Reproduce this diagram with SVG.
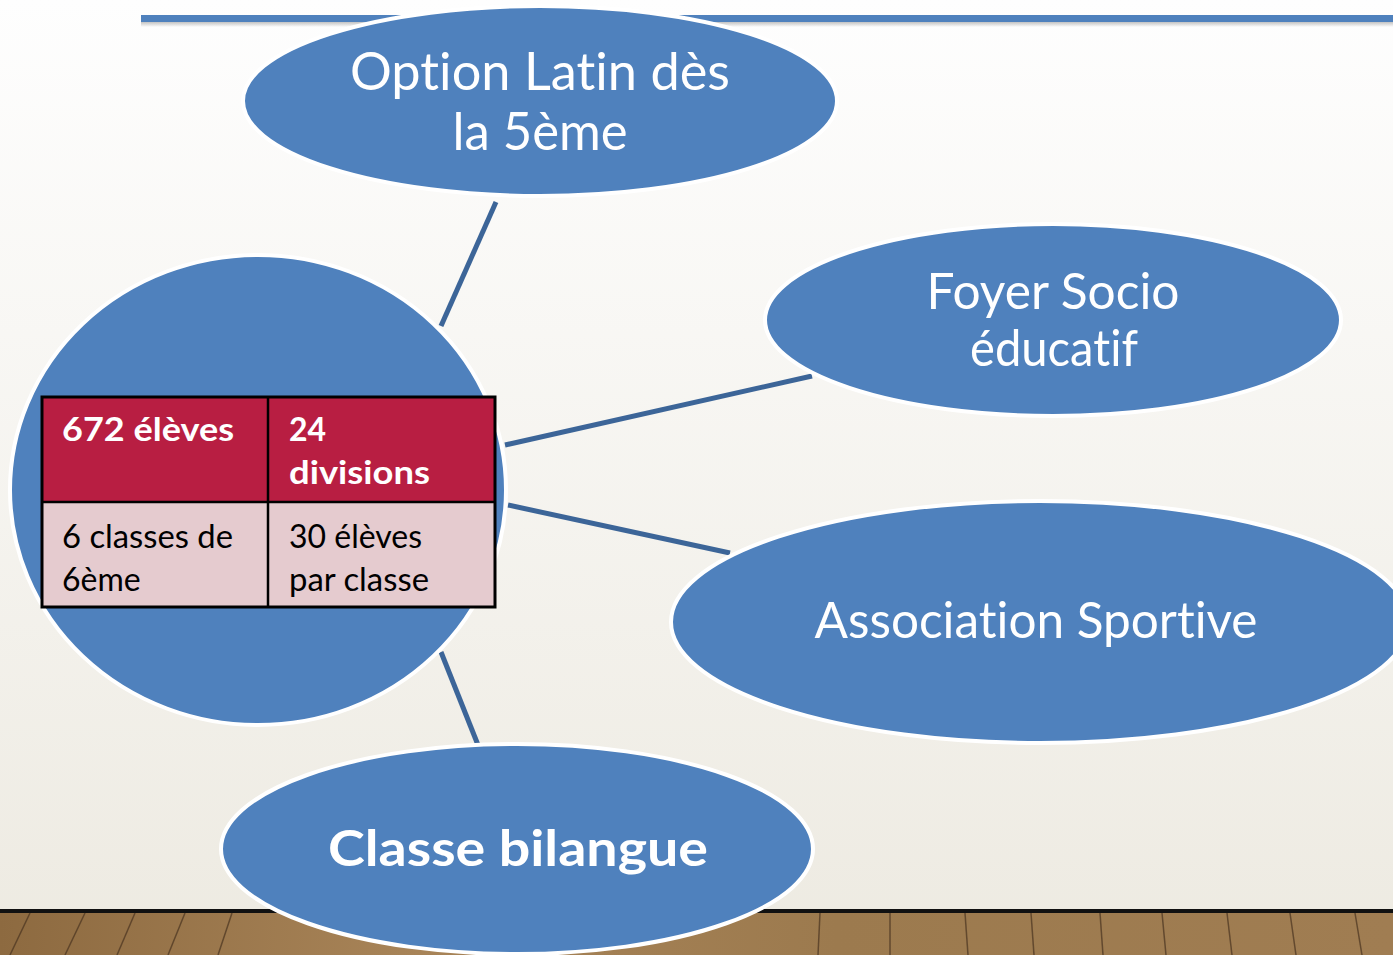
<svg xmlns="http://www.w3.org/2000/svg" width="1393" height="955" viewBox="0 0 1393 955">
<defs>
<linearGradient id="bg" x1="0" y1="0" x2="0" y2="1">
<stop offset="0" stop-color="#fefefe"/>
<stop offset="1" stop-color="#edeae1"/>
</linearGradient>
<linearGradient id="wood" x1="0" y1="0" x2="1" y2="0">
<stop offset="0" stop-color="#8d6a40"/>
<stop offset="0.3" stop-color="#a88458"/>
<stop offset="0.6" stop-color="#9c7a4e"/>
<stop offset="1" stop-color="#a07d52"/>
</linearGradient>
<linearGradient id="barshadow" x1="0" y1="0" x2="0" y2="1">
<stop offset="0" stop-color="#888" stop-opacity="0.6"/>
<stop offset="1" stop-color="#888" stop-opacity="0"/>
</linearGradient>
<style>
.node{fill:#4f81bd;stroke:#ffffff;stroke-width:4}
.conn{stroke:#3c6598;stroke-width:5;fill:none}
.lbl{font-family:Lato,"Open Sans","Liberation Sans",sans-serif;fill:#ffffff;text-anchor:middle;font-variant-ligatures:none}
.cell{font-family:Lato,"Open Sans","Liberation Sans",sans-serif;font-size:32px;font-variant-ligatures:none}
.plank{stroke:#4a3420;stroke-width:1.5;opacity:0.7}
</style>
</defs>
<rect x="0" y="0" width="1393" height="955" fill="url(#bg)"/>
<g id="floor">
<rect x="0" y="911" width="1393" height="44" fill="url(#wood)"/>
<rect x="0" y="909" width="1393" height="4" fill="#111"/>
<line class="plank" x1="30" y1="913" x2="10" y2="955"/>
<line class="plank" x1="85" y1="913" x2="65" y2="955"/>
<line class="plank" x1="135" y1="913" x2="117" y2="955"/>
<line class="plank" x1="185" y1="913" x2="168" y2="955"/>
<line class="plank" x1="232" y1="913" x2="218" y2="955"/>
<line class="plank" x1="820" y1="913" x2="818" y2="955"/>
<line class="plank" x1="890" y1="913" x2="890" y2="955"/>
<line class="plank" x1="965" y1="913" x2="968" y2="955"/>
<line class="plank" x1="1031" y1="913" x2="1034" y2="955"/>
<line class="plank" x1="1100" y1="913" x2="1103" y2="955"/>
<line class="plank" x1="1162" y1="913" x2="1166" y2="955"/>
<line class="plank" x1="1227" y1="913" x2="1232" y2="955"/>
<line class="plank" x1="1290" y1="913" x2="1296" y2="955"/>
<line class="plank" x1="1355" y1="913" x2="1362" y2="955"/>
</g>
<g id="topbar">
<rect x="141" y="21" width="1252" height="6" fill="url(#barshadow)"/>
<rect x="141" y="15" width="1252" height="7" fill="#4f81bd"/>
</g>
<g id="connectors">
<line class="conn" x1="441" y1="326" x2="496" y2="202"/>
<line class="conn" x1="505" y1="445" x2="812" y2="376"/>
<line class="conn" x1="508" y1="505" x2="730" y2="553"/>
<line class="conn" x1="441" y1="652" x2="478" y2="745"/>
</g>
<g id="node-center">
<ellipse class="node" cx="258" cy="490" rx="248" ry="235"/>
<rect x="42" y="397" width="226" height="105" fill="#b81e42"/>
<rect x="268" y="397" width="227" height="105" fill="#b81e42"/>
<rect x="42" y="502" width="226" height="105" fill="#e5cbcf"/>
<rect x="268" y="502" width="227" height="105" fill="#e5cbcf"/>
<rect x="42" y="397" width="453" height="210" fill="none" stroke="#000" stroke-width="3"/>
<line x1="42" y1="502" x2="495" y2="502" stroke="#000" stroke-width="2.5"/>
<line x1="268" y1="397" x2="268" y2="607" stroke="#000" stroke-width="2.5"/>
<text class="cell" x="62" y="441" fill="#fff" font-weight="bold" textLength="172" lengthAdjust="spacingAndGlyphs">672 élèves</text>
<text class="cell" x="289" y="441" fill="#fff" font-weight="bold">24</text>
<text class="cell" x="289" y="484" fill="#fff" font-weight="bold" textLength="141" lengthAdjust="spacingAndGlyphs">divisions</text>
<text class="cell" x="62" y="548" fill="#000" textLength="171" lengthAdjust="spacingAndGlyphs">6 classes de</text>
<text class="cell" x="62" y="591" fill="#000">6ème</text>
<text class="cell" x="289" y="548" fill="#000" textLength="133" lengthAdjust="spacingAndGlyphs">30 élèves</text>
<text class="cell" x="289" y="591" fill="#000" textLength="140" lengthAdjust="spacingAndGlyphs">par classe</text>
</g>
<g id="node-latin">
<ellipse class="node" cx="540" cy="101" rx="297" ry="95"/>
<text class="lbl" x="540" y="90" font-size="52" textLength="380" lengthAdjust="spacingAndGlyphs">Option Latin dès</text>
<text class="lbl" x="540" y="150" font-size="52" textLength="175" lengthAdjust="spacingAndGlyphs">la 5ème</text>
</g>
<g id="node-foyer">
<ellipse class="node" cx="1053" cy="320" rx="288" ry="96"/>
<text class="lbl" x="1053" y="309" font-size="50" textLength="253" lengthAdjust="spacingAndGlyphs">Foyer Socio</text>
<text class="lbl" x="1054" y="366" font-size="50" textLength="168" lengthAdjust="spacingAndGlyphs">éducatif</text>
</g>
<g id="node-sport">
<ellipse class="node" cx="1040" cy="622" rx="369" ry="121"/>
<text class="lbl" x="1036" y="638" font-size="50" textLength="443" lengthAdjust="spacingAndGlyphs">Association Sportive</text>
</g>
<g id="node-bilangue">
<ellipse class="node" cx="517" cy="849" rx="296" ry="105"/>
<text class="lbl" x="518" y="866" font-size="50" font-weight="bold" textLength="380" lengthAdjust="spacingAndGlyphs">Classe bilangue</text>
</g>
</svg>
